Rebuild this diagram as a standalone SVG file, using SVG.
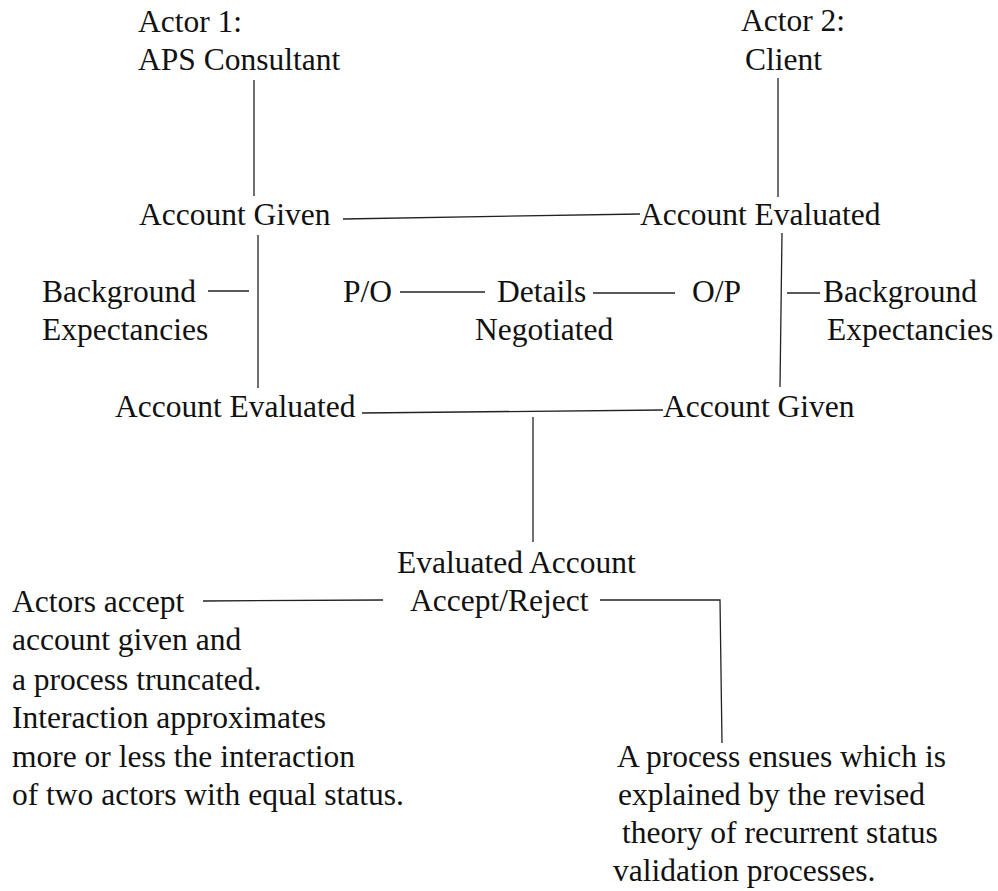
<svg xmlns="http://www.w3.org/2000/svg" width="998" height="891" viewBox="0 0 998 891">
<style>
text{font-size:31.5px;fill:#111}
.c line,.c polyline{stroke:#222;stroke-width:1.3;fill:none}
</style>
<rect width="998" height="891" fill="#fff"/>
<g class="c" id="connectors">
<line x1="254" y1="80" x2="254" y2="196"/>
<line x1="778" y1="78" x2="778" y2="197"/>
<line x1="343" y1="219" x2="640" y2="214"/>
<line x1="258" y1="235" x2="258" y2="388"/>
<line x1="782" y1="233" x2="780" y2="387"/>
<line x1="208" y1="291" x2="249" y2="291"/>
<line x1="400" y1="292" x2="485" y2="292"/>
<line x1="593" y1="293" x2="675" y2="293"/>
<line x1="787" y1="293" x2="820" y2="293"/>
<line x1="362" y1="413" x2="663" y2="410"/>
<line x1="533" y1="417" x2="533" y2="542"/>
<line x1="203" y1="601" x2="383" y2="600"/>
<polyline points="600,600 720,600 722,743"/>
</g>
<g font-family="Liberation Serif, Times New Roman, serif">
<g id="actor1"><text x="138" y="32">Actor 1:</text><text x="138" y="70">APS Consultant</text></g>
<g id="actor2"><text x="741" y="31">Actor 2:</text><text x="745" y="70">Client</text></g>
<g id="given1"><text x="139" y="225">Account Given</text></g>
<g id="evaluated2"><text x="640" y="225">Account Evaluated</text></g>
<g id="background1"><text x="42" y="302">Background</text><text x="42" y="340">Expectancies</text></g>
<g id="po"><text x="343" y="302">P/O</text></g>
<g id="details"><text x="497" y="302">Details</text><text x="475" y="340">Negotiated</text></g>
<g id="op"><text x="692" y="302">O/P</text></g>
<g id="background2"><text x="823" y="302">Background</text><text x="827" y="340">Expectancies</text></g>
<g id="evaluated1"><text x="115" y="417">Account Evaluated</text></g>
<g id="given2"><text x="663" y="417">Account Given</text></g>
<g id="evalaccount"><text x="397" y="573">Evaluated Account</text><text x="410" y="611">Accept/Reject</text></g>
<g id="accept"><text x="12" y="612">Actors accept</text><text x="12" y="650">account given and</text><text x="12" y="690">a process truncated.</text><text x="12" y="728">Interaction approximates</text><text x="12" y="767">more or less the interaction</text><text x="12" y="805">of two actors with equal status.</text></g>
<g id="reject"><text x="617" y="767">A process ensues which is</text><text x="618" y="805">explained by the revised</text><text x="622" y="843">theory of recurrent status</text><text x="613" y="881">validation processes.</text></g>
</g>
</svg>
